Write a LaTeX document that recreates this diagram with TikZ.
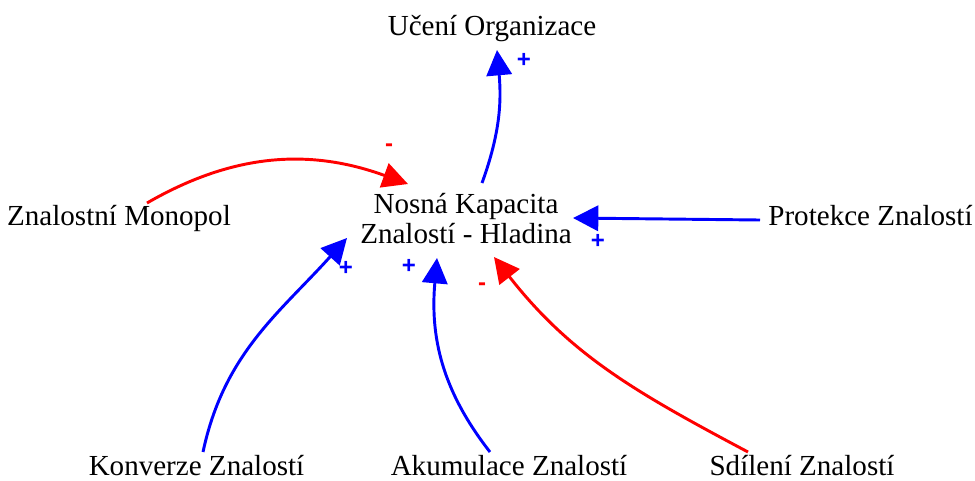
\documentclass[tikz,border=0pt]{standalone}
\usepackage{fontspec}
\setmainfont{Liberation Serif}
\newfontfamily\signfont{Liberation Sans}
\usetikzlibrary{arrows.meta}
\begin{document}
\begin{tikzpicture}[x=0.75pt,y=0.75pt,
    label/.style={inner sep=0pt,anchor=base,font=\fontsize{21.8}{22.5}\selectfont},
    pos link/.style={line width=2.2pt,blue,-{Triangle[length=19pt,width=19pt]}},
    neg link/.style={line width=2.2pt,red,-{Triangle[length=19pt,width=19pt]}},
    plus/.style={blue,font=\signfont\fontsize{18}{18}\selectfont\bfseries},
    minus/.style={red,font=\signfont\fontsize{18}{18}\selectfont\bfseries}]
        \useasboundingbox (0,0) rectangle (975,-480);

        % Variables
        \node[label] (uceni) at (492,-35) {Učení Organizace};
        \node[label,anchor=center,align=center] (nosna) at (466,-218.5) {Nosná Kapacita\\Znalostí - Hladina};
        \node[label] (monopol) at (119,-225) {Znalostní Monopol};
        \node[label] (protekce) at (870.5,-225) {Protekce Znalostí};
        \node[label,text depth=0pt] (konverze) at (196.5,-475) {Konverze Znalostí};
        \node[label,text depth=0pt] (akumulace) at (509,-475) {Akumulace Znalostí};
        \node[label,text depth=0pt] (sdileni) at (802,-475) {Sdílení Znalostí};

        % Links into the level
        \draw[neg link] ([shift={(28,22)}]monopol.base) to[out=30,in=160] ([shift={(-58,34.5)}]nosna.center);
        \draw[pos link] ([shift={(-110.5,5)}]protekce.base) -- ([shift={(107,0.5)}]nosna.center);
        \draw[pos link] ([shift={(6.5,23)}]konverze.base) to[out=78,in=228] ([shift={(-119,-19.5)}]nosna.center);
        \draw[pos link] ([shift={(-19,23)}]akumulace.base) to[out=128,in=-95] ([shift={(-29,-39.5)}]nosna.center);
        \draw[neg link] ([shift={(-54,23)}]sdileni.base) to[out=152,in=-52] ([shift={(28,-38.5)}]nosna.center);

        % Link out of the level
        \draw[pos link] ([shift={(16,35.5)}]nosna.center) to[out=70,in=-85] ([shift={(5,-15)}]uceni.base);

        % Polarities
        \node[plus] (s1) at (524,-60) {+};
        \node[minus] (s2) at (389,-148) {-};
        \node[plus] (s3) at (598,-241) {+};
        \node[plus] (s4) at (346,-268) {+};
        \node[plus] (s5) at (409,-266) {+};
        \node[minus] (s6) at (482,-287) {-};
    \end{tikzpicture}
\end{document}
